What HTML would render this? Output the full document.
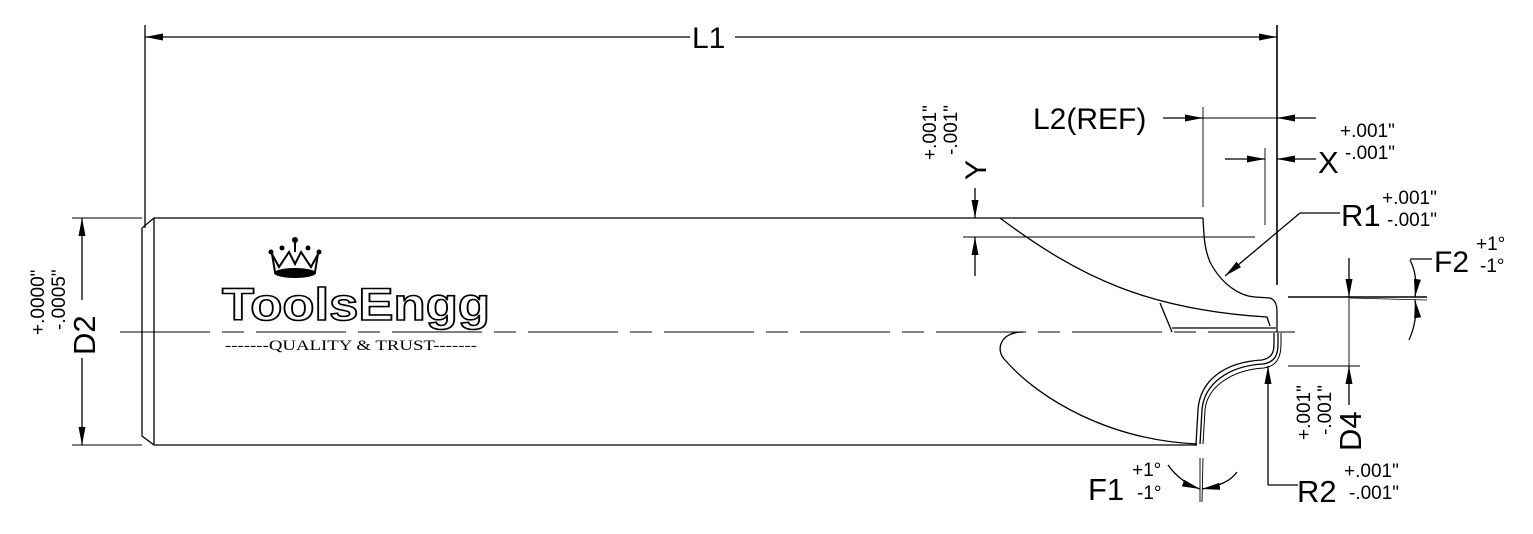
<!DOCTYPE html>
<html><head><meta charset="utf-8"><style>
html,body{margin:0;padding:0;background:#fff;width:1533px;height:534px;overflow:hidden}
text{font-family:"Liberation Sans",sans-serif;fill:#000}
</style></head><body>
<svg width="1533" height="534" viewBox="0 0 1533 534" xmlns="http://www.w3.org/2000/svg">
<defs>
<marker id="a" viewBox="0 0 10 10" refX="10" refY="5" markerWidth="18" markerHeight="7" orient="auto-start-reverse" markerUnits="userSpaceOnUse" preserveAspectRatio="none"><path d="M0,0 L10,5 L0,10 z" fill="#000"/></marker>
</defs>
<g stroke="#000" fill="none" stroke-width="1.3">
<line x1="145" y1="25" x2="145" y2="228"/>
<line x1="1277" y1="25" x2="1277" y2="285" stroke-width="1.6"/>
<line x1="145" y1="37" x2="690" y2="37" marker-start="url(#a)"/>
<line x1="735" y1="37" x2="1277" y2="37" marker-end="url(#a)"/>
<path d="M1203,218 L154,218 L142,228 L142,436 L154,445 L1197,445"/>
<line x1="154" y1="218" x2="154" y2="445"/>
<line x1="120" y1="332" x2="1295" y2="332" stroke-width="0.9" stroke-dasharray="90,12,22,12"/>
<line x1="72" y1="218" x2="142" y2="218" stroke-width="0.9"/>
<line x1="72" y1="445" x2="142" y2="445" stroke-width="0.9"/>
<line x1="82" y1="218" x2="82" y2="300" marker-start="url(#a)"/>
<line x1="82" y1="358" x2="82" y2="445" marker-end="url(#a)"/>
<path d="M1203,218 C1204,235 1204,248 1210,262 C1222,285 1240,296 1255,297 L1270,298 C1276,300 1277,306 1277,312 L1277,332"/>
<path d="M1000,218 C1080,278 1150,310 1267,317 L1270,326"/>
<path d="M1160,303 L1172,332"/>
<line x1="1172" y1="328" x2="1276" y2="328"/>
<line x1="963" y1="237" x2="1255" y2="237" stroke-width="0.9"/>
<path d="M1023,332 C1000,332 995,350 1005,360 C1040,400 1110,440 1197,444"/>
<path d="M1196,444 L1198,410 C1200,380 1225,362 1262,360 C1272,358 1274,352 1274,344 L1274,333"/>
<path d="M1200,444 L1202,410 C1204,384 1228,366 1263,364 C1275,362 1278,355 1278,344 L1278,333"/>
<path d="M1203,444 L1205,410 C1207,388 1230,370 1264,368 C1277,366 1281,357 1281,344 L1281,333" stroke-width="1"/>
<line x1="975" y1="188" x2="975" y2="218" marker-end="url(#a)"/>
<line x1="975" y1="276" x2="975" y2="237" marker-end="url(#a)"/>
<line x1="1203" y1="107" x2="1203" y2="207" stroke-width="0.9"/>
<line x1="1163" y1="118" x2="1203" y2="118" marker-end="url(#a)"/>
<line x1="1316" y1="118" x2="1277" y2="118" marker-end="url(#a)"/>
<line x1="1203" y1="118" x2="1277" y2="118" stroke-width="0.9"/>
<line x1="1265" y1="148" x2="1265" y2="225" stroke-width="0.9"/>
<line x1="1225" y1="159" x2="1265" y2="159" marker-end="url(#a)"/>
<line x1="1316" y1="159" x2="1277" y2="159" marker-end="url(#a)"/>
<line x1="1300" y1="213" x2="1225" y2="276" marker-end="url(#a)"/>
<line x1="1300" y1="213" x2="1340" y2="213"/>
<line x1="1288" y1="297" x2="1427" y2="297" stroke-width="1.6"/>
<line x1="1350" y1="298" x2="1427" y2="300" stroke-width="0.8"/>
<line x1="1288" y1="366" x2="1360" y2="366" stroke-width="0.9"/>
<line x1="1349" y1="258" x2="1349" y2="297" marker-end="url(#a)"/>
<line x1="1349" y1="405" x2="1349" y2="366" marker-end="url(#a)"/>
<line x1="1349" y1="297" x2="1349" y2="366" stroke-width="0.9"/>
<path d="M1410,260 Q1418,275 1415,297" marker-end="url(#a)"/>
<path d="M1409,340 Q1418,320 1415,300" marker-end="url(#a)"/>
<line x1="1410" y1="259" x2="1432" y2="259"/>
<line x1="1268" y1="485" x2="1268" y2="366" marker-end="url(#a)"/>
<line x1="1268" y1="485" x2="1298" y2="485"/>
<line x1="1200" y1="458" x2="1200" y2="502" stroke-width="0.9"/>
<line x1="1203" y1="458" x2="1202" y2="502" stroke-width="0.9"/>
<path d="M1168,465 Q1180,482 1200,489" marker-end="url(#a)"/>
<path d="M1237,472 Q1228,485 1202,489" marker-end="url(#a)"/>
</g>
<text x="692" y="48" font-size="30">L1</text>
<text x="1033" y="129" font-size="30">L2(REF)</text>
<text x="1318" y="173" font-size="31">X</text>
<text x="1340" y="137" font-size="19">+.001"</text>
<text x="1345" y="159" font-size="19">-.001"</text>
<text x="1341" y="226" font-size="31">R1</text>
<text x="1382" y="204" font-size="19">+.001"</text>
<text x="1387" y="226" font-size="19">-.001"</text>
<text x="1434" y="272" font-size="30">F2</text>
<text x="1476" y="250" font-size="19">+1°</text>
<text x="1480" y="272" font-size="19">-1°</text>
<text x="1297" y="502" font-size="31">R2</text>
<text x="1344" y="477" font-size="19">+.001"</text>
<text x="1349" y="499" font-size="19">-.001"</text>
<text x="1088" y="500" font-size="31">F1</text>
<text x="1132" y="476" font-size="19">+1°</text>
<text x="1137" y="499" font-size="19">-1°</text>
<text transform="translate(986,180) rotate(-90)" font-size="30">Y</text>
<text transform="translate(936,160) rotate(-90)" font-size="19">+.001"</text>
<text transform="translate(957,155) rotate(-90)" font-size="19">-.001"</text>
<text transform="translate(95,355) rotate(-90)" font-size="31">D2</text>
<text transform="translate(44,335) rotate(-90)" font-size="19">+.0000"</text>
<text transform="translate(65,330) rotate(-90)" font-size="19">-.0005"</text>
<text transform="translate(1361,451) rotate(-90)" font-size="31">D4</text>
<text transform="translate(1310,440) rotate(-90)" font-size="19">+.001"</text>
<text transform="translate(1331,435) rotate(-90)" font-size="19">-.001"</text>
<g transform="translate(295,262)">
<path d="M-23,-8 L-16,5 L-6,-10 L0,2 L6,-10 L16,5 L23,-8 L20,10 Q0,16 -20,10 Z" fill="#fff" stroke="#000" stroke-width="2"/>
<ellipse cx="0" cy="11" rx="21" ry="5" fill="#000"/>
<circle cx="0" cy="-22" r="3" fill="#000"/><line x1="0" y1="-19" x2="0" y2="-10" stroke="#000" stroke-width="2"/>
<circle cx="-24" cy="-10" r="2.5" fill="#000"/><circle cx="24" cy="-10" r="2.5" fill="#000"/>
<circle cx="-13" cy="-14" r="2.5" fill="#000"/><circle cx="13" cy="-14" r="2.5" fill="#000"/>
</g>
<text x="222" y="320" font-size="45" font-weight="bold" textLength="268" lengthAdjust="spacingAndGlyphs" style="fill:#fff;stroke:#000;stroke-width:1.6">ToolsEngg</text>
<text x="225" y="350" font-size="15" textLength="252" lengthAdjust="spacingAndGlyphs" style="font-family:'Liberation Serif',serif">-------QUALITY &amp; TRUST-------</text>
</svg>
</body></html>
